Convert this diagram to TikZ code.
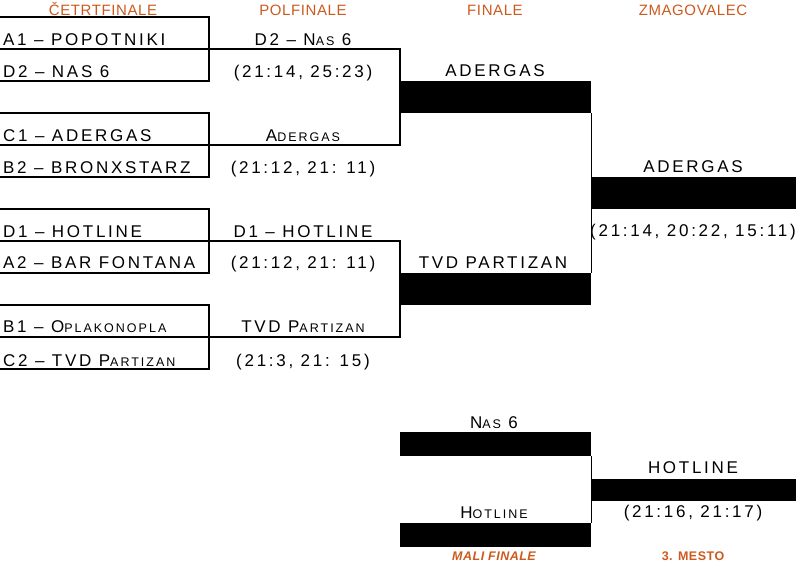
\documentclass[tikz,border=0pt]{standalone}
\usepackage{fontspec}
\setmainfont{Liberation Sans}
\newfontfamily\teamfont[LetterSpace=16]{Liberation Sans}
\newfontfamily\headfont[LetterSpace=4]{Liberation Sans}
\definecolor{hdrorange}{HTML}{CC5A1E}
\newcommand\tsc[1]{{\fontsize{12.5}{12.5}\selectfont #1}}
\tikzset{
  hdr/.style={font={\fontsize{15}{15}\headfont}, text=hdrorange, inner sep=0pt, anchor=base},
  team/.style={font={\fontsize{17}{17}\teamfont}, inner sep=0pt, anchor=base},
  qteam/.style={team, anchor=base west},
  qline/.style={line width=1.8pt},
  sline/.style={line width=1.2pt},
  bar/.style={fill=black, draw=none, inner sep=0pt, anchor=north west}
}
\begin{document}
\begin{tikzpicture}[x=1pt,y=-1pt]
\useasboundingbox (0,0) rectangle (800,562);
% headers
\node[hdr] (h1) at (103,15) {ČETRTFINALE};
\node[hdr] (h2) at (303,15) {POLFINALE};
\node[hdr] (h3) at (495,15) {FINALE};
\node[hdr] (h4) at (693,15) {ZMAGOVALEC};
\node[hdr, font={\fontsize{12.5}{12.5}\headfont\bfseries\itshape}] (h5) at (494,560) {MALI FINALE};
\node[hdr, font={\fontsize{12.5}{12.5}\headfont\bfseries}] (h6) at (693,560) {3. MESTO};
% quarterfinal boxes
\foreach \t in {17,113,209,305}{
  \draw[qline] (0,\t) -| (209,\t+64) -- (0,\t+64);
  \draw[qline] (0,\t+32) -- (209,\t+32);
}
% semifinal brackets
\draw[sline] (209,49) -| (400,145) -- (209,145);
\draw[sline] (209,241) -| (400,337) -- (209,337);
% quarterfinal teams
\node[qteam] (q1) at (3,45) {A1 – POPOTNIKI};
\node[qteam] (q2) at (3,77) {D2 – NAS 6};
\node[qteam] (q3) at (3,141) {C1 – ADERGAS};
\node[qteam] (q4) at (3,173) {B2 – BRONXSTARZ};
\node[qteam] (q5) at (3,237) {D1 – HOTLINE};
\node[qteam] (q6) at (3,268) {A2 – BAR FONTANA};
\node[qteam] (q7) at (3,332) {B1 – O\tsc{PLAKONOPLA}};
\node[qteam] (q8) at (3,366) {C2 – TVD P\tsc{ARTIZAN}};
% semifinal labels
\node[team] (s1) at (303,45) {D2 – N\tsc{AS} 6};
\node[team] (s1r) at (303,77) {(21:14, 25:23)};
\node[team] (s2) at (303,141) {A\tsc{DERGAS}};
\node[team] (s2r) at (303,173) {(21:12, 21: 11)};
\node[team] (s3) at (303,237) {D1 – HOTLINE};
\node[team] (s3r) at (303,268) {(21:12, 21: 11)};
\node[team] (s4) at (303,332) {TVD P\tsc{ARTIZAN}};
\node[team] (s4r) at (303,366) {(21:3, 21: 15)};
% final bars
\node[bar, minimum width=191pt, minimum height=32pt] (f1) at (400,81) {};
\node[bar, minimum width=191pt, minimum height=32pt] (f2) at (400,273) {};
\draw[sline] (f1.south east) -- (f2.north east);
\node[bar, minimum width=205pt, minimum height=32pt] (w) at (591,177) {};
\node[team] (f1t) at (495,76) {ADERGAS};
\node[team] (f2t) at (493,268) {TVD PARTIZAN};
\node[team] (wt) at (693,172) {ADERGAS};
\node[team] (wr) at (693,236) {(21:14, 20:22, 15:11)};
% small final
\node[bar, minimum width=191pt, minimum height=24pt] (m1) at (400,432) {};
\node[bar, minimum width=191pt, minimum height=24pt] (m2) at (400,523) {};
\draw[sline] (m1.south east) -- (m2.north east);
\node[bar, minimum width=205pt, minimum height=22pt] (m3) at (591,479) {};
\node[team] (m1t) at (494,428) {N\tsc{AS} 6};
\node[team] (m2t) at (494,518) {H\tsc{OTLINE}};
\node[team] (m3t) at (693,473) {HOTLINE};
\node[team] (m3r) at (693,517) {(21:16, 21:17)};
\end{tikzpicture}
\end{document}
